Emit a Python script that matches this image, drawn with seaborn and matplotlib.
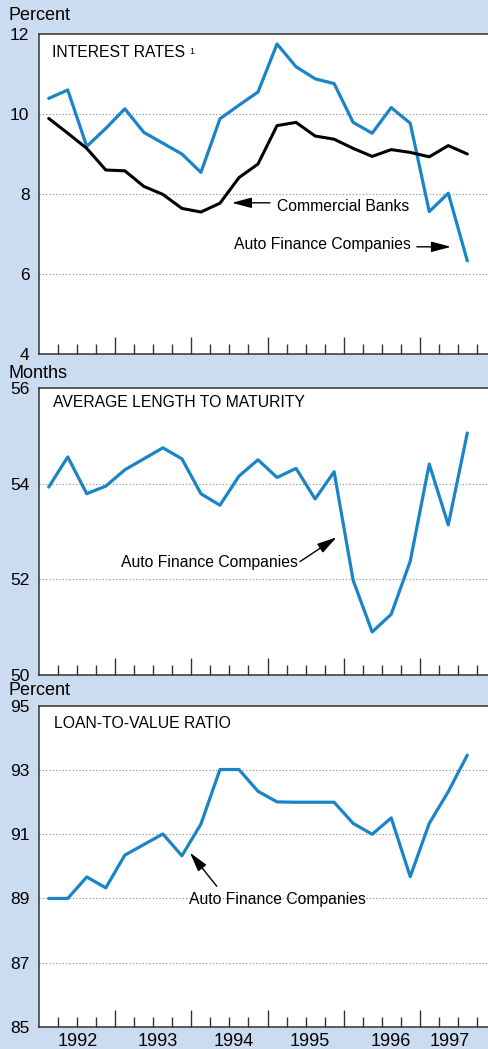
import numpy as np
import pandas as pd
import matplotlib
matplotlib.use("Agg")
import matplotlib.pyplot as plt
import seaborn as sns
from matplotlib.transforms import blended_transform_factory

# ---------------- data ----------------
quarters = [str(p) for p in pd.period_range("1992Q1", "1997Q3", freq="Q")]
auto_rates = [10.39, 10.60, 9.19, 9.64, 10.13, 9.54, 9.27, 9.00, 8.54, 9.88,
              10.22, 10.55, 11.75, 11.18, 10.88, 10.76, 9.79, 9.52, 10.16, 9.77,
              7.56, 8.02, 6.33]
bank_rates = [9.89, 9.52, 9.14, 8.60, 8.58, 8.19, 7.99, 7.64, 7.55, 7.77,
              8.41, 8.75, 9.71, 9.79, 9.45, 9.37, 9.14, 8.94, 9.11, 9.04,
              8.93, 9.21, 9.00]
maturity = [53.93, 54.56, 53.79, 53.95, 54.29, 54.52, 54.75, 54.52, 53.79, 53.55,
            54.16, 54.50, 54.13, 54.32, 53.68, 54.25, 51.98, 50.90, 51.27, 52.38,
            54.41, 53.14, 55.06]
ltv = [89.00, 89.00, 89.67, 89.33, 90.35, 90.68, 91.01, 90.33, 91.32, 93.02,
       93.02, 92.34, 92.01, 92.00, 92.00, 92.00, 91.34, 91.00, 91.51, 89.68,
       91.34, 92.33, 93.47]
year_labels = ["1992", "1993", "1994", "1995", "1996", "1997"]
year_label_pos = [2.0, 6.25, 10.2, 14.2, 18.5, 21.6]

df = pd.DataFrame({"quarter": quarters, "auto": auto_rates, "bank": bank_rates,
                   "maturity": maturity, "ltv": ltv})
df["x"] = np.arange(len(df)) + 0.5  # quarter midpoints

BG = "#CBDBF0"
BLUE = "#1A84C7"
sns.set_style("white")
plt.rcParams["font.family"] = ["Liberation Sans", "DejaVu Sans"]
plt.rcParams["text.color"] = "black"
plt.rcParams["xtick.color"] = "#333333"
plt.rcParams["ytick.color"] = "black"
plt.rcParams["xtick.labelcolor"] = "black"
plt.rcParams["ytick.labelcolor"] = "black"
ANN = 11.3

fig = plt.figure(figsize=(4.89, 10.49), dpi=100, facecolor=BG)
left = 39.2 / 489
width = 1 - left
ax1 = fig.add_axes([left, 0.6625, width, 0.3051])
ax2 = fig.add_axes([left, 0.3565, width, 0.2736])
ax3 = fig.add_axes([left, 0.02126, width, 0.3057])

XMAX = 23.64
major = [4, 8, 12, 16, 20]
minor = [q for q in range(1, 24) if q not in major]


def style(ax, ylim, yticks):
    ax.set_facecolor("white")
    ax.set_xlim(0, XMAX)
    ax.set_ylim(*ylim)
    ax.set_yticks(yticks)
    ax.set_yticklabels([str(t) for t in yticks], fontsize=12.5)
    ax.set_xticks(major)
    ax.set_xticks(minor, minor=True)
    ax.set_xticklabels([])
    ax.tick_params(axis="x", which="both", bottom=True, top=False)
    ax.tick_params(axis="x", which="major", direction="in", length=12.5,
                   width=1.0, color="#333333")
    ax.tick_params(axis="x", which="minor", direction="in", length=7.5,
                   width=1.0, color="#333333")
    ax.tick_params(axis="y", length=0, pad=7, left=True)
    for s in ["left", "bottom", "top"]:
        ax.spines[s].set_visible(True)
        ax.spines[s].set_color("#333333")
        ax.spines[s].set_linewidth(1.1)
    ax.spines["right"].set_visible(False)
    ax.grid(False)
    for t in yticks[1:-1]:
        ax.axhline(t, color="#888888", lw=0.8, ls=(0, (1, 2)), zorder=0)
    ax.set_xlabel("")
    ax.set_ylabel("")


# Panel 1
sns.lineplot(data=df, x="x", y="auto", ax=ax1, color=BLUE, lw=2.3, legend=False)
sns.lineplot(data=df, x="x", y="bank", ax=ax1, color="black", lw=2.2, legend=False)
style(ax1, (4, 12), [4, 6, 8, 10, 12])
t1 = ax1.text(0.0285, 0.9406, "INTEREST RATES", transform=ax1.transAxes,
              fontsize=ANN, va="center", ha="left")
ax1.annotate("1", xy=(1, 1), xycoords=t1, xytext=(3, -1), textcoords="offset points",
             fontsize=6.5, ha="left", va="top")
arrow = dict(arrowstyle="-|>,head_length=1.2,head_width=0.32", color="black",
             lw=1.0, mutation_scale=10, shrinkA=0, shrinkB=0)
ax1.annotate("", xy=(10.13, 7.78), xytext=(12.13, 7.78), arrowprops=arrow)
ax1.text(12.5, 7.7, "Commercial Banks", fontsize=ANN, ha="left", va="center")
ax1.text(19.54, 6.75, "Auto Finance Companies", fontsize=ANN, ha="right", va="center")
ax1.annotate("", xy=(21.64, 6.68), xytext=(19.85, 6.68), arrowprops=arrow)

# Panel 2
sns.lineplot(data=df, x="x", y="maturity", ax=ax2, color=BLUE, lw=2.3, legend=False)
style(ax2, (50, 56), [50, 52, 54, 56])
ax2.text(0.0307, 0.948, "AVERAGE LENGTH TO MATURITY", transform=ax2.transAxes,
         fontsize=ANN, va="center", ha="left")
ax2.text(13.6, 52.35, "Auto Finance Companies", fontsize=ANN, ha="right", va="center")
ax2.annotate("", xy=(15.63, 52.88), xytext=(13.7, 52.37), arrowprops=arrow)

# Panel 3
sns.lineplot(data=df, x="x", y="ltv", ax=ax3, color=BLUE, lw=2.3, legend=False)
style(ax3, (85, 95), [85, 87, 89, 91, 93, 95])
ax3.text(0.0327, 0.947, "LOAN-TO-VALUE RATIO", transform=ax3.transAxes,
         fontsize=ANN, va="center", ha="left")
ax3.text(7.87, 88.97, "Auto Finance Companies", fontsize=ANN, ha="left", va="center")
ax3.annotate("", xy=(7.92, 90.43), xytext=(9.33, 89.38), arrowprops=arrow)

tr = blended_transform_factory(ax3.transData, ax3.transAxes)
for lab, pos in zip(year_labels, year_label_pos):
    ax3.annotate(lab, xy=(pos, 0), xycoords=tr, xytext=(0, -11),
                 textcoords="offset points", ha="center", va="center", fontsize=13)

# unit labels
fig.text(9 / 489, 1 - 16 / 1049, "Percent", ha="left", va="center", fontsize=13)
fig.text(8 / 489, 1 - 374 / 1049, "Months", ha="left", va="center", fontsize=13)
fig.text(8 / 489, 1 - 690.7 / 1049, "Percent", ha="left", va="center", fontsize=13)

fig.savefig("out.png", dpi=100, facecolor=BG)
